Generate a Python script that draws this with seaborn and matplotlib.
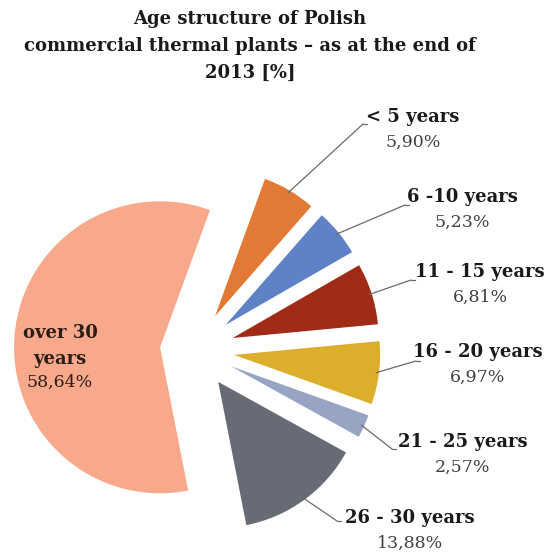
import matplotlib
matplotlib.use("Agg")
import matplotlib.pyplot as plt
import numpy as np
import seaborn as sns

# Data
categories = ["< 5 years", "6 -10 years", "11 - 15 years", "16 - 20 years",
              "21 - 25 years", "26 - 30 years", "over 30\nyears"]
shares = [5.90, 5.23, 6.81, 6.97, 2.57, 13.88, 58.64]
colors = ["#E27A35", "#5F82C6", "#A02B17", "#DCAE2C", "#97A4C3", "#666B75", "#F9A98B"]

# Layout (pixel positions in the 550x552 picture)
W, H = 550, 552
CX, CY, R = 195, 350, 146
label_pos = [(413, 117), (462, 197), (480, 272), (478, 352), (463, 442), (410, 518), (60, 346)]
line_end = [(363, 124), (405, 205), (411, 280), (416, 361), (392, 449), (337, 521), None]
explode = [0.27, 0.27, 0.27, 0.27, 0.27, 0.27, 0.24]


def to_data(px, py):
    return (px - CX) / R, (CY - py) / R


sns.set_theme(style="white")
plt.rcParams["font.family"] = ["DejaVu Serif"]

fig = plt.figure(figsize=(W / 100, H / 100), dpi=100)
ax = fig.add_axes([0, 0, 1, 1])

wedges, _ = ax.pie(shares, colors=colors, startangle=70, counterclock=False,
                   radius=1, explode=explode, wedgeprops=dict(linewidth=0))

# pie() resets the limits, so fix them afterwards
ax.set_xlim(-CX / R, (W - CX) / R)
ax.set_ylim(-(H - CY) / R, CY / R)
ax.set_aspect("equal")
ax.axis("off")

for i, (wedge, name, value) in enumerate(zip(wedges, categories, shares)):
    pct = f"{value:.2f}%".replace(".", ",")
    lx, ly = to_data(*label_pos[i])
    if line_end[i] is None:
        ax.text(lx, ly + 0.0, name, ha="center", va="center", fontsize=13,
                fontweight="bold", color="#2b1d17", linespacing=1.5)
        ax.text(lx, ly - 0.25, pct, ha="center", va="center", fontsize=12.5,
                color="#2b1d17")
        continue
    ax.text(lx, ly, name, ha="center", va="center", fontsize=13,
            fontweight="bold", color="#1a1a1a")
    ax.text(lx, ly - 0.172, pct, ha="center", va="center", fontsize=12.5,
            color="#404040")
    mid = np.deg2rad((wedge.theta1 + wedge.theta2) / 2)
    wx, wy = wedge.center
    attach = (wx + 0.98 * np.cos(mid), wy + 0.98 * np.sin(mid))
    ex, ey = to_data(*line_end[i])
    ax.annotate("", xy=attach, xytext=(ex, ey),
                arrowprops=dict(arrowstyle="-", color="#6a6a6a", lw=0.9,
                                shrinkA=0, shrinkB=0))
    ax.plot([ex, ex + 0.03], [ey, ey], color="#6a6a6a", lw=0.9)

title = "Age structure of Polish\ncommercial thermal plants \u2013 as at the end of\n2013 [%]"
fig.text(250 / W, 1 - 46 / H, title, ha="center", va="center", fontsize=13,
         fontweight="bold", color="#1a1a1a", linespacing=1.65)

fig.savefig("out.png", dpi=100, facecolor="white")
